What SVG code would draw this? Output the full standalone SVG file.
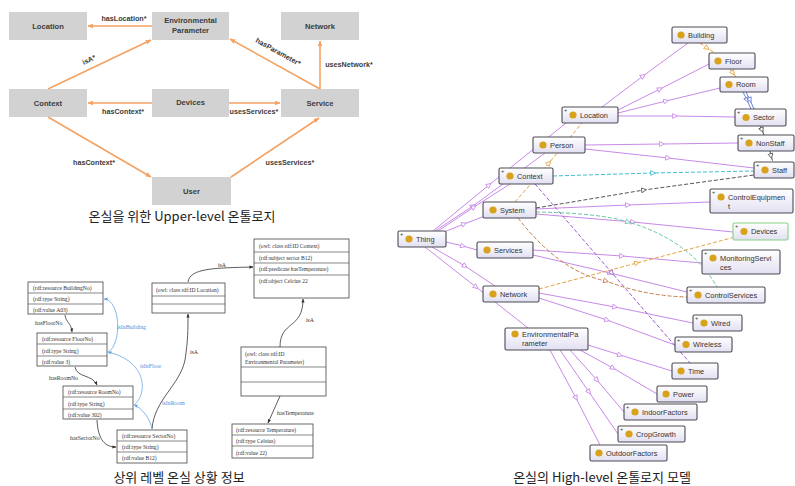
<svg xmlns="http://www.w3.org/2000/svg" width="795" height="486" viewBox="0 0 795 486">
  <style>
    .ubox { fill: #d2d2d2; }
    .ut { font-family: "Liberation Sans", Arial, sans-serif; font-weight: bold; font-size: 7.6px; fill: #3c3c3c; text-anchor: middle; }
    .ul { font-family: "Liberation Sans", Arial, sans-serif; font-weight: bold; font-size: 7.2px; fill: #3c3c3c; text-anchor: middle; }
    .uarr { stroke: #f4a262; stroke-width: 1.6; fill: none; marker-end: url(#ahOrange); }
    .cap { font-family: "Noto Sans CJK KR", "Noto Sans", sans-serif; font-size: 13px; fill: #222; text-anchor: middle; }
    .rbox { fill: #fff; stroke: #444; stroke-width: 0.8; }
    .rline { stroke: #555; stroke-width: 0.7; }
    .rt { font-family: "Liberation Serif", "Times New Roman", serif; font-size: 5.6px; fill: #333; }
    .rl { font-family: "Liberation Serif", "Times New Roman", serif; font-size: 5.8px; fill: #333; }
    .bl { font-family: "Liberation Serif", "Times New Roman", serif; font-size: 5.8px; fill: #4a90d9; }
    .curve { stroke: #333; stroke-width: 0.8; fill: none; marker-end: url(#ahBlack); }
    .bcurve { stroke: #6aa6e0; stroke-width: 0.8; fill: none; marker-end: url(#ahBlue); }
    .node { fill: url(#nodeGrad); stroke: #4a4a55; stroke-width: 1.1; }
    .dot { fill: #d8a21c; }
    .nt { font-family: "Liberation Sans", Arial, sans-serif; font-size: 7.4px; fill: #333; }
    .plus { font-family: "Liberation Sans", Arial, sans-serif; font-size: 5.5px; fill: #333; }
    .sub { stroke: #c98ae8; stroke-width: 1; fill: none; marker-mid: url(#triPurple); }
    .d-violet { stroke: #9b5cd6; stroke-width: 1; fill: none; stroke-dasharray: 4 2; marker-mid: url(#triViolet); }
    .d-cyan { stroke: #3fbfcc; stroke-width: 1; fill: none; stroke-dasharray: 4 2; marker-mid: url(#triCyan); }
    .d-gray { stroke: #555; stroke-width: 1; fill: none; stroke-dasharray: 4 2; marker-mid: url(#triGray); }
    .d-teal { stroke: #62c8a0; stroke-width: 1; fill: none; stroke-dasharray: 4 2; marker-mid: url(#triTeal); }
    .d-orange { stroke: #e3a440; stroke-width: 1; fill: none; stroke-dasharray: 4 2; marker-mid: url(#triOrange); }
    .d-brown { stroke: #c27c48; stroke-width: 1; fill: none; stroke-dasharray: 4 2; marker-mid: url(#triBrown); }
    .d-blue { stroke: #6a84d6; stroke-width: 1; fill: none; marker-mid: url(#triBlue); }
  </style>
  <defs>
    <linearGradient id="nodeGrad" x1="0" y1="0" x2="0" y2="1">
      <stop offset="0" stop-color="#ffffff"/>
      <stop offset="1" stop-color="#e2e0f2"/>
    </linearGradient>
    <marker id="ahOrange" viewBox="0 0 10 10" refX="9" refY="5" markerWidth="6" markerHeight="6" markerUnits="userSpaceOnUse" orient="auto">
      <path d="M0,1 L10,5 L0,9 Z" fill="#f4a262"/>
    </marker>
    <marker id="ahBlack" viewBox="0 0 10 10" refX="9" refY="5" markerWidth="4" markerHeight="4" markerUnits="userSpaceOnUse" orient="auto">
      <path d="M0,1 L10,5 L0,9 Z" fill="#333"/>
    </marker>
    <marker id="ahBlue" viewBox="0 0 10 10" refX="9" refY="5" markerWidth="4" markerHeight="4" markerUnits="userSpaceOnUse" orient="auto">
      <path d="M0,1 L10,5 L0,9 Z" fill="#6aa6e0"/>
    </marker>
    <marker id="triPurple" viewBox="0 0 10 10" refX="5" refY="5" markerWidth="6" markerHeight="6" markerUnits="userSpaceOnUse" orient="auto">
      <path d="M1,1 L9,5 L1,9 Z" fill="#fff" stroke="#c98ae8" stroke-width="1.4"/>
    </marker>
    <marker id="triViolet" viewBox="0 0 10 10" refX="5" refY="5" markerWidth="6" markerHeight="6" markerUnits="userSpaceOnUse" orient="auto">
      <path d="M1,1 L9,5 L1,9 Z" fill="#fff" stroke="#9b5cd6" stroke-width="1.4"/>
    </marker>
    <marker id="triCyan" viewBox="0 0 10 10" refX="5" refY="5" markerWidth="6" markerHeight="6" markerUnits="userSpaceOnUse" orient="auto">
      <path d="M1,1 L9,5 L1,9 Z" fill="#fff" stroke="#3fbfcc" stroke-width="1.4"/>
    </marker>
    <marker id="triGray" viewBox="0 0 10 10" refX="5" refY="5" markerWidth="6" markerHeight="6" markerUnits="userSpaceOnUse" orient="auto">
      <path d="M1,1 L9,5 L1,9 Z" fill="#fff" stroke="#555" stroke-width="1.4"/>
    </marker>
    <marker id="triTeal" viewBox="0 0 10 10" refX="5" refY="5" markerWidth="6" markerHeight="6" markerUnits="userSpaceOnUse" orient="auto">
      <path d="M1,1 L9,5 L1,9 Z" fill="#fff" stroke="#62c8a0" stroke-width="1.4"/>
    </marker>
    <marker id="triOrange" viewBox="0 0 10 10" refX="5" refY="5" markerWidth="6" markerHeight="6" markerUnits="userSpaceOnUse" orient="auto">
      <path d="M1,1 L9,5 L1,9 Z" fill="#fff" stroke="#e3a440" stroke-width="1.4"/>
    </marker>
    <marker id="triBrown" viewBox="0 0 10 10" refX="5" refY="5" markerWidth="6" markerHeight="6" markerUnits="userSpaceOnUse" orient="auto">
      <path d="M1,1 L9,5 L1,9 Z" fill="#fff" stroke="#c27c48" stroke-width="1.4"/>
    </marker>
    <marker id="triBlue" viewBox="0 0 10 10" refX="5" refY="5" markerWidth="6" markerHeight="6" markerUnits="userSpaceOnUse" orient="auto">
      <path d="M1,1 L9,5 L1,9 Z" fill="#fff" stroke="#6a84d6" stroke-width="1.4"/>
    </marker>
  </defs>

  <rect x="0" y="0" width="795" height="486" fill="#fff"/>

  <!-- ===== Upper-level ontology ===== -->
  <g id="upper-connectors">
    <path class="uarr" d="M152,26 L88,26"/>
    <path class="uarr" d="M48,89 L151,40"/>
    <path class="uarr" d="M320,89 L230,39"/>
    <path class="uarr" d="M320,89 L320,41"/>
    <path class="uarr" d="M152,103 L88,103"/>
    <path class="uarr" d="M229,103 L280,103"/>
    <path class="uarr" d="M48,117 L151,177"/>
    <path class="uarr" d="M231,177 L319,118"/>
    <text class="ul" x="124" y="21">hasLocation*</text>
    <text class="ul" transform="translate(90,62) rotate(-25)">isA*</text>
    <text class="ul" transform="translate(277,54) rotate(29)">hasParameter*</text>
    <text class="ul" x="349" y="67">usesNetwork*</text>
    <text class="ul" x="123" y="114">hasContext*</text>
    <text class="ul" x="254" y="114">usesServices*</text>
    <text class="ul" x="94" y="165">hasContext*</text>
    <text class="ul" x="290" y="165">usesServices*</text>
  </g>
  <g id="u-location"><rect class="ubox" x="9" y="12" width="78" height="28"/><text class="ut" x="48" y="29">Location</text></g>
  <g id="u-envparam"><rect class="ubox" x="152" y="12" width="77" height="28"/><text class="ut" x="190.5" y="23">Environmental</text><text class="ut" x="190.5" y="33">Parameter</text></g>
  <g id="u-network"><rect class="ubox" x="281" y="12" width="78" height="28"/><text class="ut" x="320" y="29">Network</text></g>
  <g id="u-context"><rect class="ubox" x="9" y="89" width="78" height="28"/><text class="ut" x="48" y="106">Context</text></g>
  <g id="u-devices"><rect class="ubox" x="152" y="89" width="77" height="28"/><text class="ut" x="190.5" y="105">Devices</text></g>
  <g id="u-service"><rect class="ubox" x="281" y="89" width="78" height="28"/><text class="ut" x="320" y="106">Service</text></g>
  <g id="u-user"><rect class="ubox" x="152" y="177" width="79" height="28"/><text class="ut" x="191.5" y="194">User</text></g>
  <text class="cap" x="182" y="221">온실을 위한 Upper-level 온톨로지</text>

  <!-- ===== Upper context information (RDF) ===== -->
  <g id="rdf-connectors">
    <path class="curve" d="M65,315 C66,323 71,322 72,332"/>
    <path class="curve" d="M75,367 C77,378 92,374 97,385"/>
    <path class="curve" d="M97,420 C98,440 105,447 116,447"/>
    <path class="curve" d="M188,282 C190,268 215,268 253,267"/>
    <path class="curve" d="M280,347 C280,320 303,330 303,299"/>
    <path class="curve" d="M152,429 C154,400 180,385 185,360 C188,340 188,330 188,314"/>
    <path class="curve" d="M280,396 L268,423"/>
    <path class="bcurve" d="M108,352 C122,345 121,300 104,299"/>
    <path class="bcurve" d="M134,405 C147,395 149,362 108,352"/>
    <path class="bcurve" d="M152,429 C150,418 142,408 134,405"/>
    <text class="rl" x="35" y="325">hasFloorNo</text>
    <text class="rl" x="49" y="380">hasRoomNo</text>
    <text class="rl" x="70" y="440">hasSectorNo</text>
    <text class="rl" x="218" y="267">isA</text>
    <text class="rl" x="306" y="322">isA</text>
    <text class="rl" x="190" y="354">isA</text>
    <text class="rl" x="277" y="415">hasTemperature</text>
    <text class="bl" x="117" y="329">isInBuilding</text>
    <text class="bl" x="140" y="368">isInFloor</text>
    <text class="bl" x="162" y="405">isInRoom</text>
  </g>
  <g id="r-building">
    <rect class="rbox" x="28" y="282" width="75" height="32"/>
    <line class="rline" x1="28" y1="293" x2="103" y2="293"/><line class="rline" x1="28" y1="304" x2="103" y2="304"/>
    <text class="rt" x="33" y="290">(rdf:resource BuildingNo)</text><text class="rt" x="33" y="301">(rdf:type String)</text><text class="rt" x="33" y="312">(rdf:value A03)</text>
  </g>
  <g id="r-floor">
    <rect class="rbox" x="37" y="333" width="70" height="33"/>
    <line class="rline" x1="37" y1="344" x2="107" y2="344"/><line class="rline" x1="37" y1="356" x2="107" y2="356"/>
    <text class="rt" x="42" y="341">(rdf:resource FloorNo)</text><text class="rt" x="42" y="353">(rdf:type String)</text><text class="rt" x="42" y="364">(rdf:value 3)</text>
  </g>
  <g id="r-room">
    <rect class="rbox" x="63" y="386" width="70" height="33"/>
    <line class="rline" x1="63" y1="397" x2="133" y2="397"/><line class="rline" x1="63" y1="409" x2="133" y2="409"/>
    <text class="rt" x="68" y="394">(rdf:resource RoomNo)</text><text class="rt" x="68" y="406">(rdf:type String)</text><text class="rt" x="68" y="417">(rdf:value 302)</text>
  </g>
  <g id="r-sector">
    <rect class="rbox" x="117" y="430" width="70" height="33"/>
    <line class="rline" x1="117" y1="441" x2="187" y2="441"/><line class="rline" x1="117" y1="452" x2="187" y2="452"/>
    <text class="rt" x="122" y="438">(rdf:resource SectorNo)</text><text class="rt" x="122" y="449">(rdf:type String)</text><text class="rt" x="122" y="460">(rdf:value B12)</text>
  </g>
  <g id="r-location">
    <rect class="rbox" x="152" y="283" width="73" height="30"/>
    <line class="rline" x1="152" y1="296" x2="225" y2="296"/><line class="rline" x1="152" y1="304" x2="225" y2="304"/>
    <text class="rt" x="156" y="292">(owl: class rdf:ID Location)</text>
  </g>
  <g id="r-context">
    <rect class="rbox" x="254" y="239" width="95" height="59"/>
    <line class="rline" x1="254" y1="252" x2="349" y2="252"/><line class="rline" x1="254" y1="263" x2="349" y2="263"/><line class="rline" x1="254" y1="275" x2="349" y2="275"/>
    <text class="rt" x="259" y="248">(owl: class rdf:ID Context)</text><text class="rt" x="259" y="260">(rdf:subject sector B12)</text><text class="rt" x="259" y="271">(rdf:predicate hasTemperature)</text><text class="rt" x="259" y="283">(rdf:object Celcius 22</text>
  </g>
  <g id="r-envparam">
    <rect class="rbox" x="241" y="347" width="85" height="49"/>
    <line class="rline" x1="241" y1="367" x2="326" y2="367"/><line class="rline" x1="241" y1="382" x2="326" y2="382"/>
    <text class="rt" x="245" y="356">(owl: class rdf:ID</text><text class="rt" x="245" y="364">Environmental Parameter)</text>
  </g>
  <g id="r-temperature">
    <rect class="rbox" x="232" y="424" width="81" height="34"/>
    <line class="rline" x1="232" y1="435" x2="313" y2="435"/><line class="rline" x1="232" y1="446" x2="313" y2="446"/>
    <text class="rt" x="236" y="432">(rdf:resource Temperature)</text><text class="rt" x="236" y="443">(rdf:type Celsius)</text><text class="rt" x="236" y="455">(rdf:value 22)</text>
  </g>
  <text class="cap" x="179" y="482">상위 레벨 온실 상황 정보</text>

  <!-- ===== High-level ontology graph ===== -->
  <g id="graph-connectors">
    <!-- subclass links -->
    <path class="sub" d="M433,231 L489,185 L566,123"/>
    <path class="sub" d="M435,231 L473,206 L545,153"/>
    <path class="sub" d="M438,231 L474,207 L510,184"/>
    <path class="sub" d="M444,232 L464,224 L485,216"/>
    <path class="sub" d="M446,242 L463,246 L477,250"/>
    <path class="sub" d="M432,247 L465,266 L495,286"/>
    <path class="sub" d="M425,247 L476,287 L528,328"/>
    <path class="sub" d="M602,107 L643,76 L688,43"/>
    <path class="sub" d="M618,110 L660,89 L709,64"/>
    <path class="sub" d="M618,113 L666,101 L720,88"/>
    <path class="sub" d="M618,116 L675,116 L735,117"/>
    <path class="sub" d="M585,145 L662,144 L738,143"/>
    <path class="sub" d="M585,149 L668,158 L754,168"/>
    <path class="sub" d="M536,209 L628,205 L710,202"/>
    <path class="sub" d="M536,214 L633,222 L733,232"/>
    <path class="sub" d="M533,250 L622,256 L702,263"/>
    <path class="sub" d="M533,255 L610,273 L687,292"/>
    <path class="sub" d="M539,293 L615,307 L693,323"/>
    <path class="sub" d="M539,298 L607,320 L675,345"/>
    <path class="sub" d="M588,345 L620,355 L672,371"/>
    <path class="sub" d="M580,350 L613,368 L657,394"/>
    <path class="sub" d="M570,350 L597,380 L624,412"/>
    <path class="sub" d="M560,350 L589,392 L618,434"/>
    <path class="sub" d="M550,350 L576,398 L600,445"/>
    <!-- property links -->
    <path class="d-violet" d="M535,184 L612,273 L690,363"/>
    <path class="d-cyan" d="M553,176 L653,173 L754,171"/>
    <path class="d-gray" d="M536,208 L644,190 L754,175"/>
    <path class="d-teal" d="M536,212 Q600,213 628,222 Q690,240 717,287"/>
    <path class="d-orange" d="M515,202 L549,163 L582,123"/>
    <path class="d-brown" d="M518,218 Q560,272 606,281 Q645,296 687,297"/>
    <path class="d-orange" d="M539,289 L637,263 L735,237"/>
    <path class="d-orange" d="M700,43 L707,48 L715,53"/>
    <path class="d-orange" d="M730,69 L733,73 L736,77"/>
    <path class="d-blue" d="M743,92 L747,100 L751,109"/>
    <path class="d-blue" d="M746,92 L750,100 L754,109"/>
    <path class="d-gray" d="M760,126 L762,130 L764,135"/>
    <path class="d-gray" d="M770,151 L771,156 L773,162"/>
  </g>

  <g id="n-building"><rect class="node" x="672" y="27" width="55" height="16" rx="1.5"/><circle class="dot" cx="681" cy="35" r="3.6"/><text class="nt" x="688" y="37.6">Building</text></g>
  <g id="n-floor"><rect class="node" x="709" y="53" width="46" height="16" rx="1.5"/><circle class="dot" cx="718" cy="61" r="3.6"/><text class="nt" x="725" y="63.6">Floor</text></g>
  <g id="n-room"><rect class="node" x="720" y="77" width="48" height="15" rx="1.5"/><circle class="dot" cx="729" cy="84.5" r="3.6"/><text class="nt" x="736" y="87">Room</text></g>
  <g id="n-sector"><rect class="node" x="735" y="109" width="51" height="17" rx="1.5"/><text class="plus" x="737" y="114">+</text><circle class="dot" cx="746" cy="117.5" r="3.6"/><text class="nt" x="753" y="120">Sector</text></g>
  <g id="n-nonstaff"><rect class="node" x="738" y="135" width="56" height="16" rx="1.5"/><text class="plus" x="740" y="140">+</text><circle class="dot" cx="749" cy="143" r="3.6"/><text class="nt" x="756" y="145.6">NonStaff</text></g>
  <g id="n-staff"><rect class="node" x="754" y="162" width="40" height="16" rx="1.5"/><text class="plus" x="756" y="167">+</text><circle class="dot" cx="765" cy="170" r="3.6"/><text class="nt" x="772" y="172.6">Staff</text></g>
  <g id="n-controlequipment"><rect class="node" x="710" y="189" width="83" height="24" rx="1.5"/><text class="plus" x="712" y="194">+</text><circle class="dot" cx="721" cy="197" r="3.6"/><text class="nt" x="728" y="199.6">ControlEquipmen</text><text class="nt" x="728" y="209">t</text></g>
  <g id="n-devices"><rect class="node" x="733" y="223" width="55" height="17" rx="1.5" style="stroke:#86d486"/><text class="plus" x="735" y="228">+</text><circle class="dot" cx="744" cy="231.5" r="3.6"/><text class="nt" x="751" y="234">Devices</text></g>
  <g id="n-monitoringservices"><rect class="node" x="702" y="250" width="78" height="24" rx="1.5"/><text class="plus" x="704" y="255">+</text><circle class="dot" cx="713" cy="258" r="3.6"/><text class="nt" x="720" y="260.6">MonitoringServi</text><text class="nt" x="720" y="270">ces</text></g>
  <g id="n-controlservices"><rect class="node" x="687" y="287" width="78" height="16" rx="1.5"/><text class="plus" x="689" y="292">+</text><circle class="dot" cx="698" cy="295" r="3.6"/><text class="nt" x="705" y="297.6">ControlServices</text></g>
  <g id="n-wired"><rect class="node" x="693" y="315" width="49" height="16" rx="1.5"/><text class="plus" x="695" y="320">+</text><circle class="dot" cx="704" cy="323" r="3.6"/><text class="nt" x="711" y="325.6">Wired</text></g>
  <g id="n-wireless"><rect class="node" x="675" y="337" width="57" height="15" rx="1.5"/><text class="plus" x="677" y="342">+</text><circle class="dot" cx="686" cy="344.5" r="3.6"/><text class="nt" x="693" y="347">Wireless</text></g>
  <g id="n-time"><rect class="node" x="672" y="363" width="46" height="16" rx="1.5"/><circle class="dot" cx="681" cy="371" r="3.6"/><text class="nt" x="688" y="373.6">Time</text></g>
  <g id="n-power"><rect class="node" x="657" y="386" width="50" height="16" rx="1.5"/><circle class="dot" cx="666" cy="394" r="3.6"/><text class="nt" x="673" y="396.6">Power</text></g>
  <g id="n-indoorfactors"><rect class="node" x="624" y="404" width="73" height="16" rx="1.5"/><text class="plus" x="626" y="409">+</text><circle class="dot" cx="635" cy="412" r="3.6"/><text class="nt" x="642" y="414.6">IndoorFactors</text></g>
  <g id="n-cropgrowth"><rect class="node" x="618" y="426" width="67" height="16" rx="1.5"/><text class="plus" x="620" y="431">+</text><circle class="dot" cx="629" cy="434" r="3.6"/><text class="nt" x="636" y="436.6">CropGrowth</text></g>
  <g id="n-outdoorfactors"><rect class="node" x="590" y="445" width="77" height="16" rx="1.5"/><circle class="dot" cx="599" cy="453" r="3.6"/><text class="nt" x="606" y="455.6">OutdoorFactors</text></g>
  <g id="n-location"><rect class="node" x="562" y="107" width="56" height="16" rx="1.5"/><text class="plus" x="564" y="112">+</text><circle class="dot" cx="573" cy="115" r="3.6"/><text class="nt" x="580" y="117.6">Location</text></g>
  <g id="n-person"><rect class="node" x="533" y="137" width="52" height="16" rx="1.5"/><circle class="dot" cx="543" cy="145" r="3.6"/><text class="nt" x="550" y="147.6">Person</text></g>
  <g id="n-context"><rect class="node" x="499" y="168" width="54" height="16" rx="1.5"/><text class="plus" x="501" y="173">+</text><circle class="dot" cx="510" cy="176" r="3.6"/><text class="nt" x="517" y="178.6">Context</text></g>
  <g id="n-system"><rect class="node" x="483" y="202" width="53" height="16" rx="1.5"/><circle class="dot" cx="493" cy="210" r="3.6"/><text class="nt" x="500" y="212.6">System</text></g>
  <g id="n-thing"><rect class="node" x="398" y="231" width="48" height="16" rx="1.5"/><text class="plus" x="400" y="236">+</text><circle class="dot" cx="409" cy="239" r="3.6"/><text class="nt" x="416" y="241.6">Thing</text></g>
  <g id="n-services"><rect class="node" x="477" y="242" width="56" height="16" rx="1.5"/><circle class="dot" cx="487" cy="250" r="3.6"/><text class="nt" x="494" y="252.6">Services</text></g>
  <g id="n-network"><rect class="node" x="483" y="286" width="56" height="16" rx="1.5"/><circle class="dot" cx="493" cy="294" r="3.6"/><text class="nt" x="500" y="296.6">Network</text></g>
  <g id="n-envparam"><rect class="node" x="505" y="328" width="83" height="22" rx="1.5"/><circle class="dot" cx="515" cy="334" r="3.6"/><text class="nt" x="522" y="336.6">EnvironmentalPa</text><text class="nt" x="522" y="346">rameter</text></g>

  <text class="cap" x="602" y="482">온실의 High-level 온톨로지 모델</text>
</svg>
